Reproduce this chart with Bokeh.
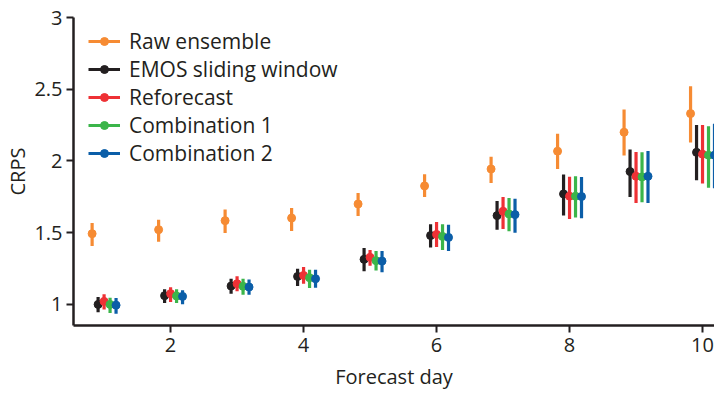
from bokeh.plotting import figure
from bokeh.models import (ColumnDataSource, Legend, LegendItem, Range1d,
                          FixedTicker, CustomJSTickFormatter)
from bokeh.transform import dodge
from bokeh.embed import file_html
from bokeh.resources import INLINE

# ---------------- data ----------------
days = [1, 2, 3, 4, 5, 6, 7, 8, 9, 10]

raw = [1.493, 1.521, 1.584, 1.602, 1.70, 1.826, 1.944, 2.068, 2.20, 2.33]
raw_lo = [1.407, 1.437, 1.498, 1.512, 1.616, 1.749, 1.846, 1.944, 2.038, 2.128]
raw_hi = [1.567, 1.591, 1.661, 1.672, 1.777, 1.907, 2.03, 2.19, 2.358, 2.52]

emos = [1.00, 1.061, 1.128, 1.195, 1.314, 1.48, 1.619, 1.77, 1.926, 2.06]
emos_lo = [0.946, 1.009, 1.075, 1.128, 1.232, 1.396, 1.52, 1.62, 1.749, 1.865]
emos_hi = [1.051, 1.105, 1.179, 1.249, 1.393, 1.558, 1.72, 1.905, 2.08, 2.25]

refc = [1.021, 1.075, 1.144, 1.202, 1.328, 1.488, 1.649, 1.754, 1.893, 2.047]
refc_lo = [0.965, 1.016, 1.091, 1.144, 1.27, 1.40, 1.525, 1.595, 1.707, 1.842]
refc_hi = [1.07, 1.12, 1.197, 1.26, 1.38, 1.574, 1.749, 1.89, 2.063, 2.25]

comb1 = [1.0, 1.058, 1.126, 1.186, 1.305, 1.474, 1.63, 1.754, 1.889, 2.04]
comb1_lo = [0.94, 1.009, 1.068, 1.114, 1.237, 1.38, 1.51, 1.605, 1.712, 1.814]
comb1_hi = [1.047, 1.105, 1.179, 1.242, 1.372, 1.558, 1.742, 1.893, 2.06, 2.242]

comb2 = [0.995, 1.056, 1.121, 1.179, 1.302, 1.467, 1.626, 1.752, 1.893, 2.04]
comb2_lo = [0.935, 1.002, 1.068, 1.116, 1.225, 1.372, 1.50, 1.60, 1.707, 1.81]
comb2_hi = [1.044, 1.098, 1.174, 1.242, 1.372, 1.556, 1.737, 1.888, 2.07, 2.26]

series_names = ["Raw ensemble", "EMOS sliding window", "Reforecast",
                "Combination 1", "Combination 2"]
x_ticks = [2, 4, 6, 8, 10]
y_ticks = [1, 1.5, 2, 2.5, 3]

# ---------------- style ----------------
FONT = "Open Sans"
DARK = "#231F20"
colors = ["#F68B33", "#231F20", "#EE3135", "#3BB54A", "#0B5EA8"]
offsets = [-0.18, -0.09, 0.0, 0.09, 0.18]

p = figure(width=714, height=393, output_backend="svg", toolbar_location=None,
           x_range=Range1d(0.54, 10.18), y_range=Range1d(0.853, 3.0),
           min_border_left=73, min_border_right=0, min_border_top=17,
           min_border_bottom=68)
p.outline_line_color = None
p.grid.visible = False
p.background_fill_color = "white"
p.border_fill_color = "white"

series = [(raw, raw_lo, raw_hi), (emos, emos_lo, emos_hi),
          (refc, refc_lo, refc_hi), (comb1, comb1_lo, comb1_hi),
          (comb2, comb2_lo, comb2_hi)]

items = []
for name, (mid, lo, hi), c, off in zip(series_names, series, colors, offsets):
    src = ColumnDataSource(dict(day=days, mid=mid, lo=lo, hi=hi))
    seg = p.segment(x0=dodge("day", off), y0="lo", x1=dodge("day", off), y1="hi",
                    source=src, line_color=c, line_width=3.2)
    dot = p.scatter(x=dodge("day", off), y="mid", source=src, size=8,
                    fill_color=c, line_color=c)
    items.append(LegendItem(label=name, renderers=[seg, dot]))

legend = Legend(items=items, location=(15, 158))
legend.background_fill_alpha = 0
legend.border_line_color = None
legend.label_text_font = FONT
legend.label_text_font_size = "21px"
legend.label_text_color = DARK
legend.glyph_width = 32
legend.glyph_height = 20
legend.label_height = 20
legend.spacing = 0
legend.margin = 0
legend.padding = 10
legend.label_standoff = 9
p.add_layout(legend)

for ax in (p.xaxis, p.yaxis):
    ax.axis_line_color = DARK
    ax.axis_line_width = 2.5
    ax.major_tick_line_color = DARK
    ax.major_tick_line_width = 2
    ax.major_tick_out = 7
    ax.major_tick_in = 0
    ax.minor_tick_line_color = None
    ax.major_label_text_font = FONT
    ax.major_label_text_font_size = "20px"
    ax.major_label_text_color = DARK
    ax.axis_label_text_font = FONT
    ax.axis_label_text_font_size = "20px"
    ax.axis_label_text_font_style = "normal"
    ax.axis_label_text_color = DARK

p.xaxis.ticker = FixedTicker(ticks=x_ticks)
p.yaxis.ticker = FixedTicker(ticks=y_ticks)
p.yaxis.formatter = CustomJSTickFormatter(code="return tick.toString();")
p.xaxis.major_label_standoff = 5
p.yaxis.major_label_standoff = 4
p.xaxis.axis_label = "Forecast day"
p.yaxis.axis_label = "CRPS"
p.xaxis.axis_label_standoff = 8
p.yaxis.axis_label_standoff = 0

open("out.html", "w").write(file_html(p, INLINE))
